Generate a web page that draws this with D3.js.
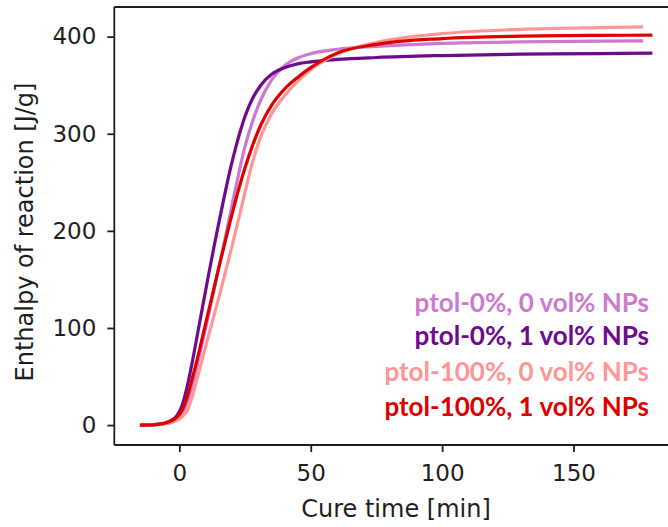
<!DOCTYPE html>
<html>
<head>
<meta charset="utf-8">
<script src="https://cdn.jsdelivr.net/npm/d3@7"></script>
<style>
  html, body { margin: 0; padding: 0; background: #fff; }
  svg { display: block; }
</style>
</head>
<body>
<svg id="chart" width="668" height="527"></svg>
<script>
// ---- data ----
const seriesNames = [
  "ptol-0%, 0 vol% NPs",
  "ptol-0%, 1 vol% NPs",
  "ptol-100%, 0 vol% NPs",
  "ptol-100%, 1 vol% NPs"
];
const seriesColors = ["#cc7ad0", "#6e0a8e", "#ff9696", "#dc0000"];

const timeShort = [-15,-10,-7,-5,-3,-1,1,3,5,7,9,11,13,15,17,19,21,23,25,28,31,35,40,45,50,60,75,100,130,160,176.5];
const timeLong  = [-15,-10,-7,-5,-3,-1,1,3,5,7,9,11,13,15,17,19,21,23,25,28,31,35,40,45,50,60,75,100,130,160,180];

const ptol0_0   = [0,0.3,1,2,3.5,6.5,12,24,42,64,88,112,137,162,187,213,239,264,287,314,335,355,370,378,382.5,387,390,393,394.5,395.3,395.6];
const ptol0_1   = [0,0.4,1.2,2.5,5,9.5,20,40,66,95,124,153,181,208,234,259,281,301,318,337,350,361,368,372,374,376.5,378.5,380.5,382,382.5,383];
const ptol100_0 = [0,0.2,0.7,1.5,2.8,5,8.5,15,30,50,71,91,111,131,152,173,195,217,240,272,297,320,339,354,366,382,394,403,407.5,409.3,410];
const ptol100_1 = [0,0.3,1.2,2.5,4.5,8,15,29,49,70,93,116,139,162,184,206,227,247,265,289,309,329,346,358,368,383,392,398,400.5,401.3,401.5];

const seriesTimes = [timeShort, timeLong, timeShort, timeLong];
const seriesValues = [ptol0_0, ptol0_1, ptol100_0, ptol100_1];

const xTicks = [0, 50, 100, 150];
const yTicks = [0, 100, 200, 300, 400];
const xLabel = "Cure time [min]";
const yLabel = "Enthalpy of reaction [J/g]";

// ---- layout ----
const svg = d3.select("#chart");
const plotLeft = 114.3, plotRight = 678, plotTop = 7, plotBottom = 445;

const x = d3.scaleLinear().domain([-24.75, 189.75]).range([plotLeft, plotRight]);
const y = d3.scaleLinear().domain([-20.5, 430.5]).range([plotBottom, plotTop]);

const axisFont = "DejaVu Sans, sans-serif";
const ink = "#1e1e1e";

// curves
const line = d3.line()
  .x(d => x(d[0]))
  .y(d => y(d[1]))
  .curve(d3.curveMonotoneX);

seriesValues.forEach((vals, i) => {
  const pts = vals.map((v, j) => [seriesTimes[i][j], v]);
  svg.append("path")
    .attr("d", line(pts))
    .attr("fill", "none")
    .attr("stroke", seriesColors[i])
    .attr("stroke-width", 3.2)
    .attr("stroke-linejoin", "round");
});

// spines
svg.append("line").attr("x1", plotLeft).attr("x2", plotLeft).attr("y1", plotTop).attr("y2", plotBottom)
  .attr("stroke", ink).attr("stroke-width", 1.8);
svg.append("line").attr("x1", plotLeft).attr("x2", plotRight).attr("y1", plotBottom).attr("y2", plotBottom)
  .attr("stroke", ink).attr("stroke-width", 1.8);
svg.append("line").attr("x1", plotLeft).attr("x2", plotRight).attr("y1", plotTop).attr("y2", plotTop)
  .attr("stroke", ink).attr("stroke-width", 1.8);

// axes
const xAxis = d3.axisBottom(x).tickValues(xTicks).tickSize(7).tickPadding(13).tickFormat(d3.format("d"));
const yAxis = d3.axisLeft(y).tickValues(yTicks).tickSize(7).tickPadding(11).tickFormat(d3.format("d"));

const gx = svg.append("g").attr("transform", `translate(0,${plotBottom})`).call(xAxis);
const gy = svg.append("g").attr("transform", `translate(${plotLeft},0)`).call(yAxis);
[gx, gy].forEach(g => {
  g.select(".domain").remove();
  g.selectAll(".tick line").attr("stroke", ink).attr("stroke-width", 1.8);
  g.selectAll(".tick text").attr("fill", ink)
    .style("font-family", axisFont).style("font-size", "23px");
});

// axis titles
svg.append("text")
  .attr("x", 396).attr("y", 517)
  .attr("text-anchor", "middle")
  .style("font-family", axisFont).style("font-size", "24px").attr("fill", ink)
  .text(xLabel);

svg.append("text")
  .attr("transform", "translate(33,232) rotate(-90)")
  .attr("text-anchor", "middle")
  .style("font-family", axisFont).style("font-size", "24px").attr("fill", ink)
  .text(yLabel);

// legend (text only, coloured)
const legendY = [302, 335, 371, 406];
seriesNames.forEach((name, i) => {
  svg.append("text")
    .attr("x", 649).attr("y", legendY[i])
    .attr("text-anchor", "end")
    .attr("dominant-baseline", "central")
    .style("font-family", "Lato, sans-serif").style("font-weight", "bold").style("font-size", "26px")
    .attr("fill", seriesColors[i])
    .text(name);
});
</script>
</body>
</html>
